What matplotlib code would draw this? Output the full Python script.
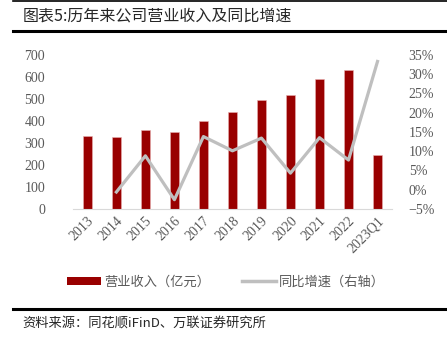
import matplotlib.pyplot as plt
from matplotlib.lines import Line2D
from matplotlib.patches import Patch
from matplotlib.ticker import FuncFormatter

plt.rcParams['font.family'] = ['Liberation Serif', 'Noto Sans CJK SC']

# 营业收入（亿元）与同比增速（%）
years = ['2013', '2014', '2015', '2016', '2017', '2018', '2019', '2020', '2021', '2022', '2023Q1']
revenue = [332, 329, 359, 350, 400, 440, 497, 518, 590, 632, 245]
growth = [None, -0.6, 8.8, -2.6, 13.8, 10.1, 13.4, 4.3, 13.5, 7.7, 33.3]

bar_color = '#990000'
line_color = '#BFBFBF'
tick_color = '#595959'
cjk = ['Noto Sans CJK SC', 'DejaVu Sans']

fig = plt.figure(figsize=(4.47, 3.37), dpi=100)
ax = fig.add_axes([0.163, 0.380, 0.714, 0.457])
x = list(range(len(years)))

ax.bar(x, revenue, width=0.32, color=bar_color, edgecolor='#E8B0B0', linewidth=0.4, zorder=2)
ax.set_ylim(0, 700)
ax.set_yticks(range(0, 701, 100))
ax.set_xlim(-0.5, len(years) - 0.5)
ax.set_xticks(x)
ax.set_xticklabels(years, rotation=45, ha='right', rotation_mode='anchor')

ax2 = ax.twinx()
gx = [i for i, g in zip(x, growth) if g is not None]
gy = [g for g in growth if g is not None]
ax2.plot(gx, gy, color=line_color, linewidth=2.3, zorder=3)
ax2.set_ylim(-5, 35)
ax2.set_yticks(range(-5, 36, 5))
ax2.yaxis.set_major_formatter(FuncFormatter(lambda v, p: f'{v:.0f}%'.replace('-', '\u2212')))

for a in (ax, ax2):
    for s in a.spines.values():
        s.set_visible(False)
    a.tick_params(length=0, labelsize=10, colors=tick_color)
ax.spines['bottom'].set_visible(True)
ax.spines['bottom'].set_color('#D9D9D9')
ax.tick_params(axis='y', pad=20)
ax.tick_params(axis='x', pad=4)
ax2.tick_params(axis='y', pad=12)

# 标题与分隔线
fig.text(0.05, 0.952, '图表5:历年来公司营业收入及同比增速', fontsize=11.5, color='#262626',
         family=['Noto Sans CJK SC', 'Liberation Serif'], weight='light', va='center')
fig.add_artist(Line2D([0.03, 1.0], [0.997, 0.997], color='black', linewidth=1.2))
fig.add_artist(Line2D([0.03, 1.0], [0.908, 0.908], color='black', linewidth=2.2))
fig.add_artist(Line2D([0.03, 1.0], [0.083, 0.083], color='black', linewidth=2.2))

handles = [Patch(facecolor=bar_color), Line2D([], [], color=line_color, linewidth=2.5)]
fig.legend(handles, ['营业收入（亿元）', '同比增速（右轴）'], loc='center', bbox_to_anchor=(0.505, 0.163),
           ncol=2, frameon=False, prop={'family': cjk, 'size': 9.5, 'weight': 'light'},
           labelcolor=tick_color, handlelength=2.6, handleheight=0.6, handletextpad=0.2,
           columnspacing=2.4)

fig.text(0.05, 0.040, '资料来源：同花顺iFinD、万联证券研究所', fontsize=9.5, color='#262626',
         family=cjk, style='italic', weight='light', va='center')

fig.savefig('out.png', dpi=100)
